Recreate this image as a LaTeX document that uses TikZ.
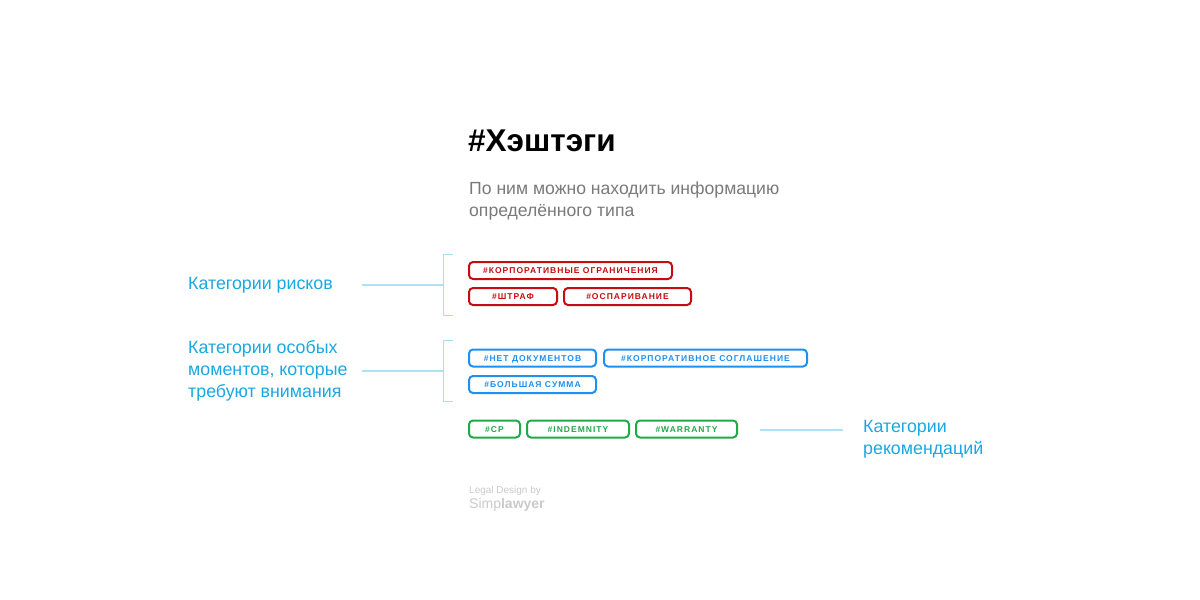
\documentclass[tikz,border=0pt]{standalone}
\usepackage{fontspec}
\setmainfont{Liberation Sans}
\newfontfamily\tagfont[LetterSpace=12]{Liberation Sans Bold}
\definecolor{labelcyan}{HTML}{1AA8E2}
\definecolor{linecyan}{HTML}{B0E2F5}
\definecolor{brackcyan}{HTML}{A9DDF2}
\definecolor{tagred}{HTML}{C40D12}
\definecolor{tagblue}{HTML}{1E90F0}
\definecolor{taggreen}{HTML}{1FAA4A}
\definecolor{subgray}{HTML}{7A7A7A}
\definecolor{footgray}{HTML}{CACACA}
\tikzset{
  tagbox/.style={draw=#1, text=#1, line width=2pt, rounded corners=4pt,
    inner sep=0pt, minimum height=17pt, text height=6.2pt, text depth=0pt,
    font=\tagfont\fontsize{8.5}{9}\selectfont},
  catlabel/.style={text=labelcyan, font=\fontsize{17.8}{22}\selectfont, align=left, inner sep=0pt},
  conn/.style={draw=linecyan, line width=1.6pt},
  brack/.style={draw=brackcyan, line width=1pt},
}
\begin{document}
\begin{tikzpicture}[x=1pt,y=-1pt]
\useasboundingbox[fill=white] (0,0) rectangle (1200,600);
% title
\node[anchor=base west, inner sep=0pt, font=\bfseries\fontsize{31.5}{36}\selectfont] (title) at (468,151) {\#Хэштэги};
\node[anchor=base west, inner sep=0pt, text=subgray, align=left, font=\fontsize{17.6}{22}\selectfont] (sub) at (469,194) {По ним можно находить информацию};
\node[anchor=base west, inner sep=0pt, text=subgray, align=left, font=\fontsize{17.6}{22}\selectfont] (sub2) at (469,216) {определённого типа};
% red tags
\node[tagbox=tagred, minimum width=203pt] (r1) at (570.5,270.5) {\#КОРПОРАТИВНЫЕ ОГРАНИЧЕНИЯ};
\node[tagbox=tagred, minimum width=88pt] (r2) at (513,296.5) {\#ШТРАФ};
\node[tagbox=tagred, minimum width=127pt] (r3) at (627.5,296.5) {\#ОСПАРИВАНИЕ};
% blue tags
\node[tagbox=tagblue, minimum width=127pt] (b1) at (532.5,358) {\#НЕТ ДОКУМЕНТОВ};
\node[tagbox=tagblue, minimum width=203pt] (b2) at (705.5,358) {\#КОРПОРАТИВНОЕ СОГЛАШЕНИЕ};
\node[tagbox=tagblue, minimum width=127pt] (b3) at (532.5,384.5) {\#БОЛЬШАЯ СУММА};
% green tags
\node[tagbox=taggreen, minimum width=51pt] (g1) at (494.5,429) {\#CP};
\node[tagbox=taggreen, minimum width=102pt] (g2) at (578,429) {\#INDEMNITY};
\node[tagbox=taggreen, minimum width=101pt] (g3) at (686.5,429) {\#WARRANTY};
% brackets
\coordinate (k1t) at (443,254);
\coordinate (k1b) at (443,315);
\coordinate (k1m) at (443,285);
\draw[brack] (453,254) -- (k1t) -- (k1b) -- (453,315);
\coordinate (k2t) at (443,340);
\coordinate (k2b) at (443,401);
\coordinate (k2m) at (443,371);
\draw[brack] (453,340) -- (k2t) -- (k2b) -- (453,401);
% labels
\node[catlabel, anchor=base west] (l1) at (188,289) {Категории рисков};
\node[catlabel, anchor=north west] (l2) at (188,340.5) {Категории особых\\моментов, которые\\требуют внимания};
\node[catlabel, anchor=north west] (l3) at (863,420.5) {Категории\\рекомендаций};
% connectors
\coordinate (c1) at (362,285);
\coordinate (c2) at (362,371);
\coordinate (c3a) at (760,430);
\coordinate (c3b) at (843,430);
\draw[conn] (c1) -- (k1m);
\draw[conn] (c2) -- (k2m);
\draw[conn] (c3a) -- (c3b);
% footer
\node[anchor=base west, inner sep=0pt, text=footgray, font=\fontsize{10}{12}\selectfont] (f1) at (469,493) {Legal Design by};
\node[anchor=base west, inner sep=0pt, text=footgray, font=\fontsize{14}{16}\selectfont] (f2) at (469,508) {Simp\textbf{lawyer}};
\end{tikzpicture}
\end{document}
